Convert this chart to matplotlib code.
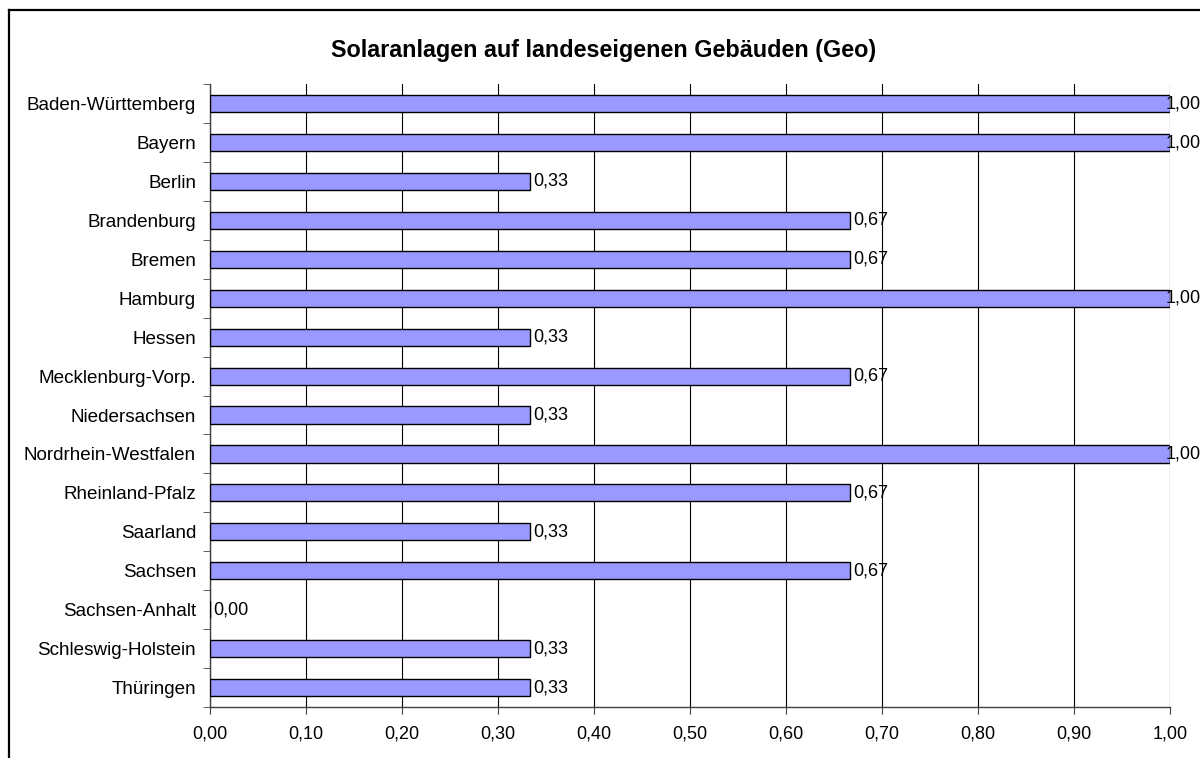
import matplotlib
matplotlib.use("Agg")
import matplotlib.pyplot as plt
from matplotlib.ticker import MultipleLocator, FuncFormatter
from matplotlib.lines import Line2D

plt.rcParams['font.family'] = ['Liberation Sans', 'DejaVu Sans']

laender = ['Baden-Württemberg', 'Bayern', 'Berlin', 'Brandenburg', 'Bremen',
           'Hamburg', 'Hessen', 'Mecklenburg-Vorp.', 'Niedersachsen',
           'Nordrhein-Westfalen', 'Rheinland-Pfalz', 'Saarland', 'Sachsen',
           'Sachsen-Anhalt', 'Schleswig-Holstein', 'Thüringen']
werte = [1.00, 1.00, 0.33, 0.67, 0.67, 1.00, 0.33, 0.67, 0.33,
         1.00, 0.67, 0.33, 0.67, 0.00, 0.33, 0.33]
# bar lengths as drawn (thirds)
laengen = [1.0, 1.0, 1/3, 2/3, 2/3, 1.0, 1/3, 2/3, 1/3,
           1.0, 2/3, 1/3, 2/3, 0.0, 1/3, 1/3]

fig = plt.figure(figsize=(12, 7.58), dpi=100)
ax = fig.add_axes([0.175, 0.0673, 0.800, 0.8217])

# chart area border (only left / top visible in the crop)
bx, by = 8.5/1200, 1 - 9.5/758
fig.add_artist(Line2D([bx, bx], [-0.01, by], transform=fig.transFigure, color='black', linewidth=1.6))
fig.add_artist(Line2D([bx, 1.01], [by, by], transform=fig.transFigure, color='black', linewidth=1.6))

y = list(range(len(laender)))
ax.barh(y, laengen, height=0.44, color='#9999FF', edgecolor='black', linewidth=1, zorder=3)

for yi, v, l in zip(y, werte, laengen):
    xpos = min(l, 0.992)
    ax.annotate(('%.2f' % v).replace('.', ','), (xpos, yi), xytext=(2.5, 0),
                textcoords='offset points', ha='left', va='center', fontsize=13, zorder=5)

ax.set_xlim(0, 1.0)
ax.set_ylim(len(laender) - 0.5, -0.5)
ax.xaxis.set_major_locator(MultipleLocator(0.1))
ax.xaxis.set_major_formatter(FuncFormatter(lambda v, p: ('%.2f' % v).replace('.', ',')))
ax.set_yticks(y)
ax.set_yticklabels(laender)
ax.set_yticks([i + 0.5 for i in range(-1, len(laender))], minor=True)
ax.tick_params(axis='y', which='major', length=0, pad=10, labelsize=13.6)
ax.tick_params(axis='y', which='minor', length=5, direction='out', color='#404040')
ax.tick_params(axis='x', length=5, direction='out', pad=8, labelsize=13, color='#404040')

ax.grid(axis='x', color='black', linewidth=0.8, zorder=0)
for s in ['top', 'right']:
    ax.spines[s].set_visible(False)
for s in ['left', 'bottom']:
    ax.spines[s].set_color('#404040')
    ax.spines[s].set_linewidth(1)

fig.text(0.503, 1 - 50/758, 'Solaranlagen auf landeseigenen Gebäuden (Geo)',
         ha='center', va='center', fontsize=16.8, fontweight='bold')

plt.savefig('out.png', dpi=100)
